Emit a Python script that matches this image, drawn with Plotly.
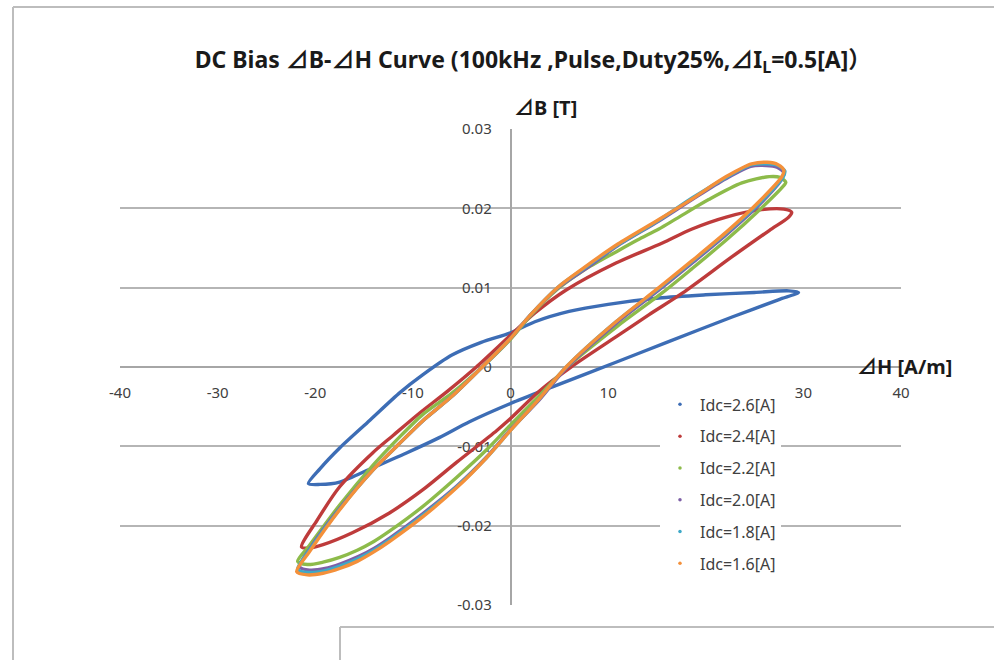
import plotly.graph_objects as go

# ---------------- data ----------------
series_names = ["Idc=2.6[A]", "Idc=2.4[A]", "Idc=2.2[A]", "Idc=2.0[A]", "Idc=1.8[A]", "Idc=1.6[A]"]
series_colors = ["#3D6DB5", "#BE3B3B", "#8DBB4A", "#7D5FA6", "#3FA9C8", "#F4903A"]

H_26 = [29.5, 28.5, 25.0, 20.0, 15.2, 10.0, 6.0, 2.5, 0.0, -3.0, -6.0, -9.0, -11.3, -14.4, -17.5, -19.5, -20.7,
        -19.5, -17.5, -14.1, -10.6, -7.3, -4.2, 0.0, 4.3, 10.8, 16.0, 22.7, 27.5, 29.5]
B_26 = [0.0094, 0.0096, 0.0094, 0.0091, 0.0087, 0.0079, 0.0070, 0.0057, 0.0043, 0.0031, 0.0015, -0.0010, -0.0032, -0.0067, -0.0102, -0.0128, -0.0147,
        -0.0148, -0.0145, -0.0127, -0.0108, -0.0089, -0.0069, -0.0046, -0.0025, 0.0006, 0.0031, 0.0063, 0.0085, 0.0094]

H_24 = [28.8, 28.0, 25.5, 22.1, 18.6, 15.5, 10.8, 5.7, 2.5, 0.0, -3.5, -6.5, -9.3, -12.0, -14.1, -17.5, -19.8, -21.4,
        -20.5, -19.2, -16.2, -12.4, -9.0, -5.5, -1.4, 0.0, 3.0, 6.2, 10.8, 14.2, 17.6, 22.7, 26.5, 28.5, 28.8]
B_24 = [0.0195, 0.0199, 0.0198, 0.0189, 0.0174, 0.0156, 0.0131, 0.0097, 0.0068, 0.0040, 0.0000, -0.0031, -0.0058, -0.0086, -0.0108, -0.0151, -0.0193, -0.0227,
        -0.0228, -0.0224, -0.0209, -0.0184, -0.0155, -0.0120, -0.0080, -0.0065, -0.0030, 0.0000, 0.0038, 0.0066, 0.0093, 0.0139, 0.0172, 0.0189, 0.0195]

H_22 = [28.2, 27.6, 26.5, 23.7, 20.3, 17.0, 15.2, 13.0, 10.8, 7.5, 4.8, 2.0, 0.0, -2.9, -6.0, -9.0, -11.5, -14.1, -17.5, -20.6, -21.8,
        -20.8, -19.2, -17.5, -15.7, -14.0, -12.4, -9.0, -5.5, -2.5, 0.0, 2.8, 5.8, 10.9, 15.6, 18.6, 22.1, 25.5, 27.8, 28.2]
B_22 = [0.0233, 0.0239, 0.0240, 0.0232, 0.0211, 0.0187, 0.0174, 0.0160, 0.0145, 0.0122, 0.0098, 0.0064, 0.0035, 0.0000, -0.0033, -0.0060, -0.0090, -0.0124, -0.0174, -0.0225, -0.0245,
        -0.0249, -0.0246, -0.0240, -0.0231, -0.0220, -0.0207, -0.0176, -0.0139, -0.0105, -0.0073, -0.0038, 0.0000, 0.0051, 0.0094, 0.0124, 0.0160, 0.0198, 0.0226, 0.0233]

H_20 = [28.0, 27.3, 26.2, 24.6, 22.0, 18.6, 15.2, 11.0, 7.5, 4.8, 2.0, 0.0, -2.9, -6.0, -9.0, -11.5, -14.1, -17.5, -20.5, -21.6,
        -20.6, -19.0, -17.4, -15.6, -13.9, -12.3, -9.0, -5.5, -2.5, 0.0, 2.9, 5.8, 10.9, 15.4, 18.8, 22.3, 25.6, 27.8, 28.0]
B_20 = [0.0245, 0.0252, 0.0254, 0.0253, 0.0237, 0.0211, 0.0184, 0.0153, 0.0122, 0.0099, 0.0065, 0.0036, 0.0000, -0.0037, -0.0068, -0.0098, -0.0130, -0.0178, -0.0228, -0.0252,
        -0.0256, -0.0254, -0.0248, -0.0239, -0.0228, -0.0215, -0.0185, -0.0150, -0.0114, -0.0079, -0.0042, 0.0000, 0.0056, 0.0099, 0.0133, 0.0169, 0.0206, 0.0237, 0.0245]

H_18 = [28.1, 27.4, 26.3, 24.7, 22.1, 18.6, 15.2, 11.0, 7.5, 4.8, 2.0, 0.0, -2.9, -6.0, -9.0, -11.5, -14.1, -17.5, -20.6, -21.8,
        -20.7, -19.1, -17.5, -15.7, -14.0, -12.4, -9.0, -5.5, -2.5, 0.0, 2.8, 5.7, 10.8, 15.3, 18.7, 22.2, 25.6, 27.9, 28.1]
B_18 = [0.0247, 0.0254, 0.0256, 0.0255, 0.0239, 0.0213, 0.0185, 0.0154, 0.0124, 0.0100, 0.0065, 0.0036, 0.0000, -0.0037, -0.0068, -0.0098, -0.0130, -0.0179, -0.0231, -0.0255,
        -0.0259, -0.0257, -0.0251, -0.0242, -0.0231, -0.0218, -0.0187, -0.0151, -0.0115, -0.0080, -0.0042, 0.0000, 0.0057, 0.0100, 0.0134, 0.0170, 0.0208, 0.0239, 0.0247]

H_16 = [28.0, 27.4, 26.3, 24.7, 22.1, 18.6, 15.2, 11.0, 7.5, 4.8, 2.0, 0.0, -2.9, -6.0, -9.0, -11.5, -14.1, -17.5, -20.6, -21.9,
        -20.8, -19.2, -17.5, -15.7, -14.0, -12.4, -9.0, -5.5, -2.5, 0.0, 2.8, 5.7, 10.8, 15.2, 18.6, 22.1, 25.5, 27.8, 28.0]
B_16 = [0.0248, 0.0255, 0.0258, 0.0256, 0.0240, 0.0212, 0.0186, 0.0155, 0.0125, 0.0100, 0.0065, 0.0036, 0.0000, -0.0037, -0.0068, -0.0098, -0.0130, -0.0180, -0.0233, -0.0258,
        -0.0262, -0.0260, -0.0254, -0.0245, -0.0233, -0.0220, -0.0189, -0.0152, -0.0115, -0.0080, -0.0042, 0.0000, 0.0057, 0.0100, 0.0134, 0.0170, 0.0209, 0.0240, 0.0248]

series_H = [H_26, H_24, H_22, H_20, H_18, H_16]
series_B = [B_26, B_24, B_22, B_20, B_18, B_16]

x_tickvals = [-40, -30, -20, -10, 0, 10, 20, 30, 40]
x_ticktext = ["-40", "-30", "-20", "-10", "0", "10", "20", "30", "40"]
y_tickvals = [-0.03, -0.02, -0.01, 0, 0.01, 0.02, 0.03]
y_ticktext = ["-0.03", "-0.02", "-0.01", "0", "0.01", "0.02", "0.03"]

CJK = "font-family:'Noto Sans CJK JP'"
TRI = "<span style=\"%s\">⊿</span>" % CJK
title_text = ("<b>DC Bias " + TRI + "B-" + TRI + "H Curve (100kHz ,Pulse,Duty25%," + TRI
              + "I<sub>L</sub>=0.5[A]<span style=\"%s\">）</span></b>" % CJK)
y_title = "<b>" + TRI + "B [T]</b>"
x_title = "<b>" + TRI + "H [A/m]</b>"

FONT = "Noto Sans, DejaVu Sans, Noto Sans CJK JP"

fig = go.Figure()
for name, col, hs, bs in zip(series_names, series_colors, series_H, series_B):
    fig.add_trace(go.Scatter(x=hs, y=bs, mode="lines", name=name, legendgroup=name,
                             showlegend=False, hoverinfo="skip",
                             line=dict(color=col, width=3.4, shape="spline", smoothing=0.8)))
for name, col in zip(series_names, series_colors):
    fig.add_trace(go.Scatter(x=[None], y=[None], mode="markers", name=name, legendgroup=name,
                             marker=dict(color=col, size=3.5)))

fig.update_layout(
    width=994, height=660,
    margin=dict(l=120, r=93, t=129, b=55),
    paper_bgcolor="white", plot_bgcolor="white",
    font=dict(family=FONT, color="#404040", size=15),
    title=dict(text=title_text, x=533 / 994, xref="container", xanchor="center",
               y=1 - 60 / 660, yref="container", yanchor="middle",
               font=dict(family=FONT, size=23, color="#1a1a1a")),
    xaxis=dict(range=[-40, 40], tickvals=x_tickvals, ticktext=x_ticktext,
               anchor="free", position=0.5, showgrid=False, zeroline=False,
               showline=True, linecolor="#a6a6a6", linewidth=1.5,
               ticks="outside", ticklen=12, tickcolor="rgba(0,0,0,0)",
               tickfont=dict(size=15, color="#404040"), layer="below traces"),
    yaxis=dict(range=[-0.03, 0.03], tickvals=y_tickvals, ticktext=y_ticktext,
               anchor="free", position=0.5, showgrid=True, gridcolor="#b5b5b5", gridwidth=2,
               zeroline=False, showline=True, linecolor="#a6a6a6", linewidth=1.5,
               ticks="outside", ticklen=15, tickcolor="rgba(0,0,0,0)",
               tickfont=dict(size=15, color="#404040"), layer="below traces"),
    legend=dict(x=0.6914, y=0.457, xanchor="left", yanchor="top", bgcolor="white",
                font=dict(family=FONT, size=16, color="#404040"),
                tracegroupgap=8, itemwidth=30),
    showlegend=True,
)

fig.add_annotation(text=y_title, xref="paper", yref="paper", x=(545 - 120) / 781, y=(605 - 107) / 476,
                   showarrow=False, xanchor="center", yanchor="middle",
                   font=dict(family=FONT, size=20, color="#1a1a1a"))
fig.add_annotation(text=x_title, xref="paper", yref="paper", x=(905 - 120) / 781, y=(605 - 365) / 476,
                   showarrow=False, xanchor="center", yanchor="middle",
                   font=dict(family=FONT, size=20, color="#1a1a1a"))

# outer chart frame and the neighbouring object's frame
frame = dict(color="#bdbdbd", width=2)
fig.add_shape(type="line", xref="paper", yref="paper", x0=(13 - 120) / 781, x1=(13 - 120) / 781,
              y0=(605 - 7) / 476, y1=-0.2, line=frame)
fig.add_shape(type="line", xref="paper", yref="paper", x0=(13 - 120) / 781, x1=1.2,
              y0=(605 - 7) / 476, y1=(605 - 7) / 476, line=frame)
fig.add_shape(type="line", xref="paper", yref="paper", x0=(340 - 120) / 781, x1=(340 - 120) / 781,
              y0=(605 - 627) / 476, y1=-0.2, line=frame)
fig.add_shape(type="line", xref="paper", yref="paper", x0=(340 - 120) / 781, x1=1.2,
              y0=(605 - 627) / 476, y1=(605 - 627) / 476, line=frame)

fig.write_html("out.html", config={"displayModeBar": False},
               post_script="document.body.style.margin='0';document.body.style.overflow='hidden';")
